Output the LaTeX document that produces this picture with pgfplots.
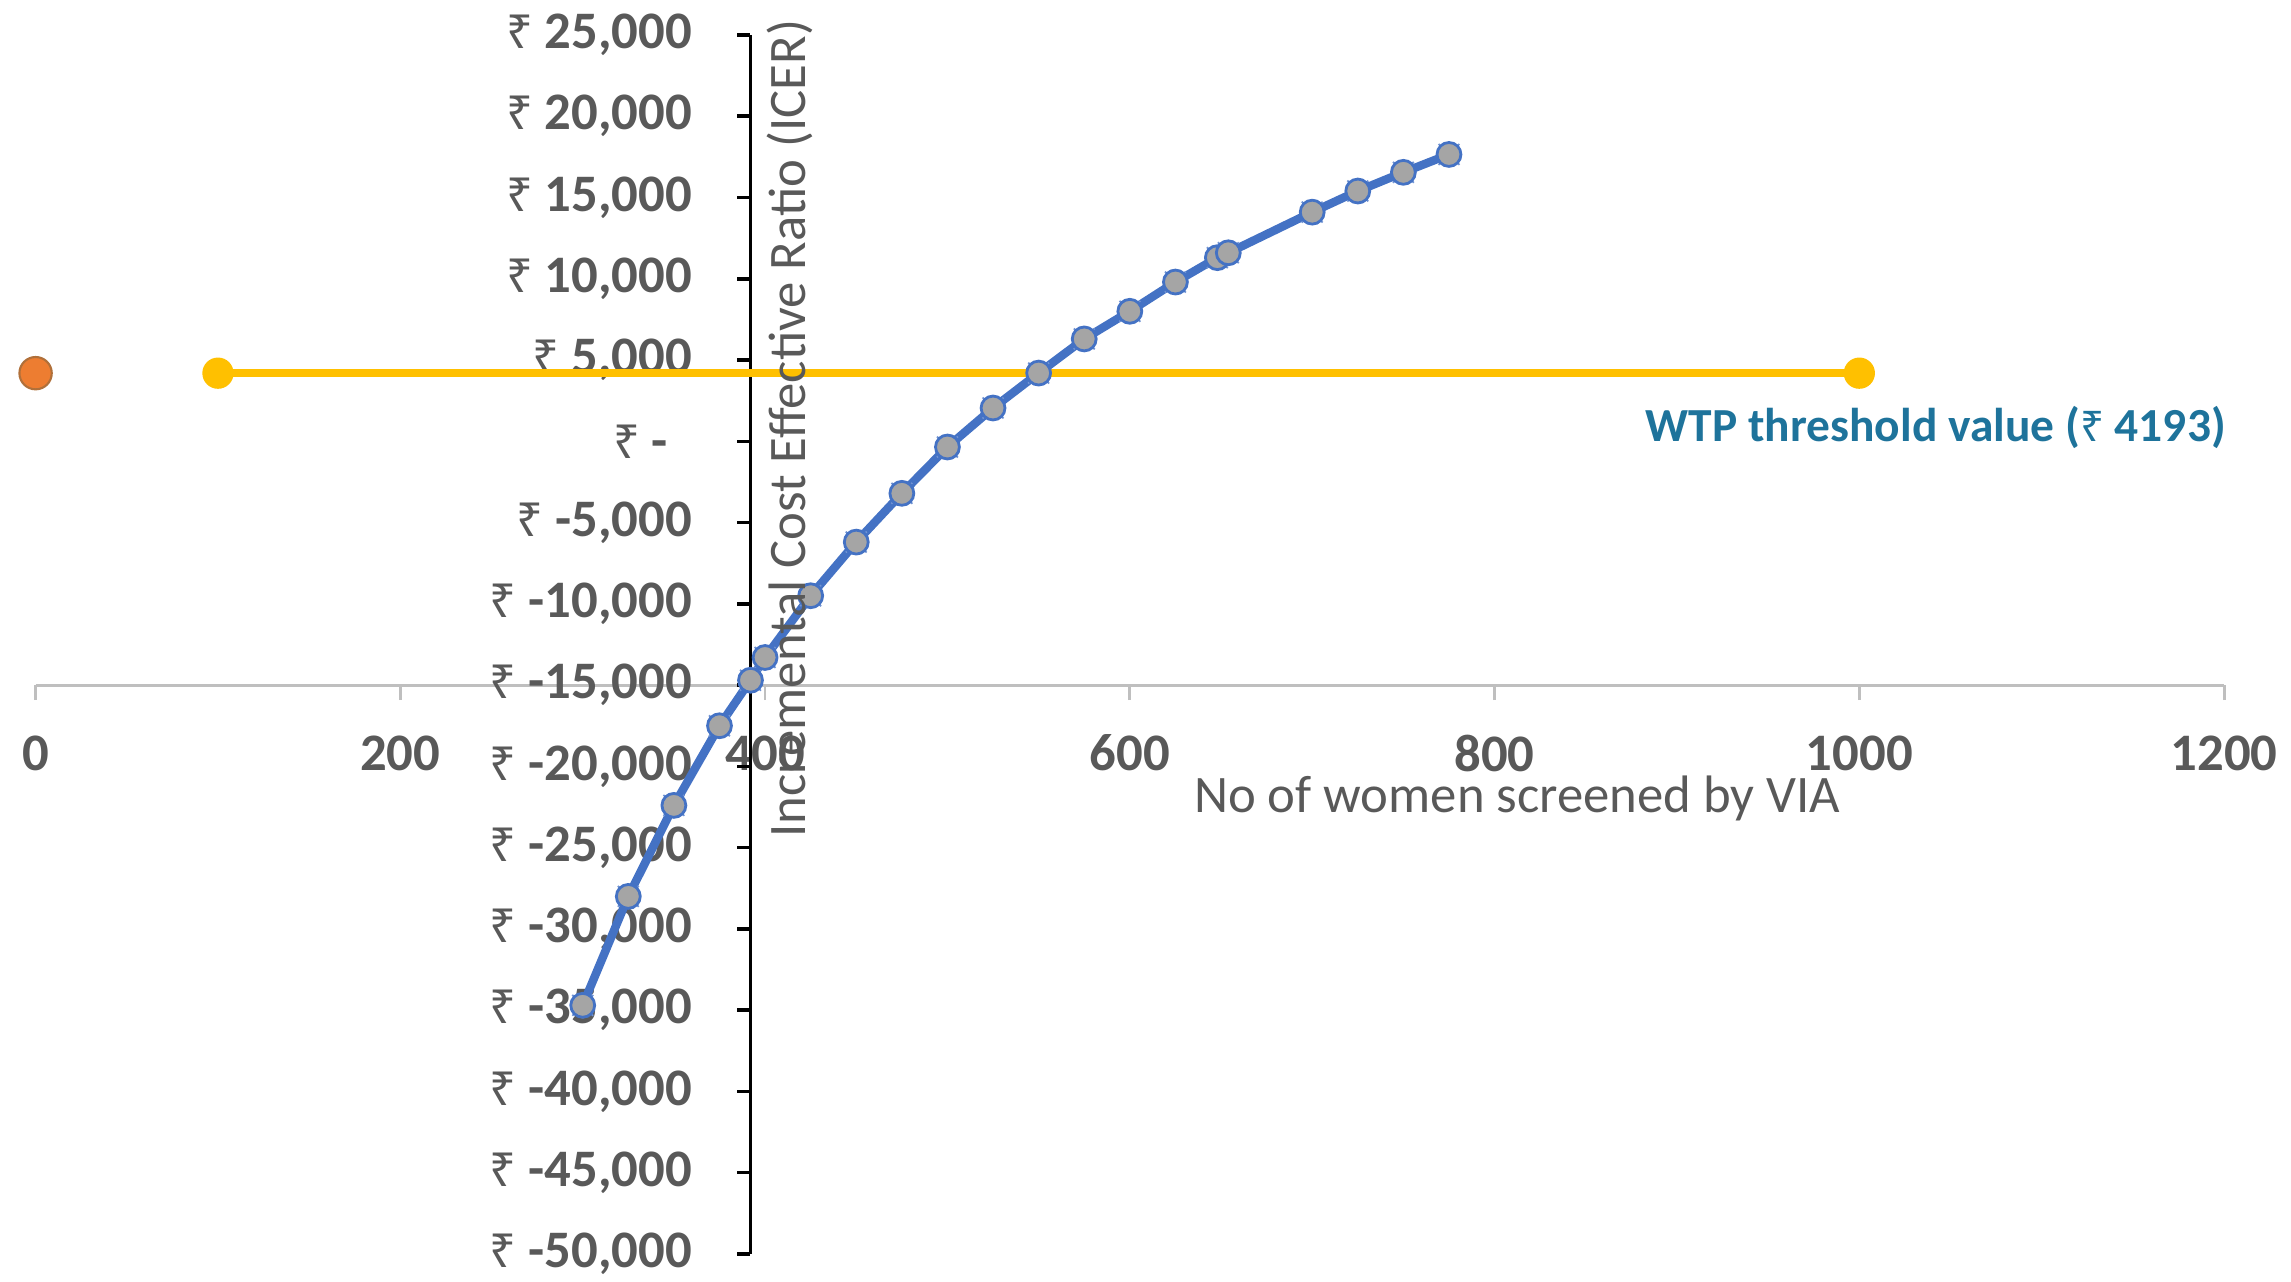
\documentclass[border=0pt]{standalone}
\usepackage{fontspec}
\setmainfont{Carlito}
\newfontfamily\rupeefont[Scale=0.89]{Noto Sans}
\usepackage{pgfplots}
\usepackage{pgfplotstable}
\pgfplotsset{compat=1.18}

\definecolor{icerblue}{HTML}{4472C4}
\definecolor{markgray}{HTML}{A5A5A5}
\definecolor{wtpyellow}{HTML}{FFC000}
\definecolor{dotorange}{HTML}{ED7D31}
\definecolor{dotedge}{HTML}{B0703A}
\definecolor{textgray}{HTML}{595959}
\definecolor{axisgray}{HTML}{BFBFBF}
\definecolor{wtpteal}{RGB}{30,115,155}

\newcommand{\rs}{{\rupeefont ₹}}
\newcommand{\tickfont}{\fontsize{15}{18}\selectfont\bfseries}
\newcommand{\labelfont}{\fontsize{15}{18}\selectfont}
\newcommand{\wtpfont}{\fontsize{13.5}{16}\selectfont\bfseries}

% ICER against number of women screened by VIA
\pgfplotstableread{
n    icer
300  -34700
325  -28000
350  -22400
375  -17500
392  -14700
400  -13300
425  -9500
450  -6200
475  -3200
500  -350
525  2050
550  4200
575  6300
600  8000
625  9800
648  11300
654  11600
700  14100
725  15400
750  16550
775  17650
}\icerdata

% willingness-to-pay threshold line
\pgfplotstableread{
n    wtp
100  4193
1000 4193
}\wtpdata

\begin{document}
\begin{tikzpicture}
% horizontal axis, crossing at -15,000
\begin{axis}[
  at={(-71.491mm,56.887mm)}, anchor=south west,
  scale only axis, width=218.85mm, height=65.013mm,
  xmin=0, xmax=1200, ymin=-15000, ymax=25000,
  axis x line=bottom, axis y line=none,
  axis line style={draw=axisgray, line width=0.8pt, -},
  xtick={0,200,400,600,800,1000,1200},
  xticklabels={0,200,400,600,800,1000,1200},
  ytick=\empty,
  tick align=outside,
  major tick length=1.5mm,
  tick style={draw=axisgray, line width=0.8pt},
  xticklabel style={font=\tickfont, text=textgray, anchor=center, yshift=-5.3mm},
  xlabel={No of women screened by VIA},
  xlabel style={font=\labelfont, text=textgray, inner sep=0pt, at={(axis description cs:0.677,-0.174)}, anchor=center},
]
\end{axis}
% vertical axis, crossing at 392, with the data
\begin{axis}[
  at={(0,0)}, anchor=south west,
  scale only axis, width=147.359mm, height=121.9mm,
  xmin=392, xmax=1200, ymin=-50000, ymax=25000,
  axis y line=left, axis x line=none,
  axis line style={draw=black, line width=1pt, -},
  xtick=\empty,
  ytick={-50000,-45000,-40000,-35000,-30000,-25000,-20000,-15000,-10000,-5000,0,5000,10000,15000,20000,25000},
  yticklabels={{\rs\ -50,000},{\rs\ -45,000},{\rs\ -40,000},{\rs\ -35,000},{\rs\ -30,000},{\rs\ -25,000},{\rs\ -20,000},{\rs\ -15,000},{\rs\ -10,000},{\rs\ -5,000},{\rs\ -\hspace*{2.4mm}},{\rs\ 5,000},{\rs\ 10,000},{\rs\ 15,000},{\rs\ 20,000},{\rs\ 25,000}},
  tick align=outside,
  major tick length=1.3mm,
  tick style={draw=black, line width=1pt},
  yticklabel style={font=\tickfont, text=textgray, anchor=east, xshift=-3.3mm},
  ylabel={Incremental Cost Effective Ratio (ICER)},
  ylabel style={font=\labelfont, text=textgray, inner sep=0pt, at={(axis description cs:0.0267,0.677)}, anchor=center},
  clip=false,
]
\addplot[only marks, mark=x, mark size=4.2pt, mark options={draw=icerblue!75, line width=0.5pt}] table[x=n, y=icer] {\icerdata};
\addplot[icerblue, line width=2.4pt, mark=*, mark size=3.4pt, mark options={fill=markgray, draw=icerblue, line width=0.8pt}] table[x=n, y=icer] {\icerdata};
\addplot[wtpyellow, line width=2.2pt, mark=*, mark size=4.2pt, mark options={fill=wtpyellow, draw=wtpyellow, line width=0.5pt}] table[x=n, y=wtp] {\wtpdata};
\addplot[only marks, mark=*, mark size=4.6pt, mark options={fill=dotorange, draw=dotedge, line width=0.6pt}] coordinates {(0,4193)};
\node[font=\wtpfont, text=wtpteal, anchor=center] at (axis cs:1042,880) {WTP threshold value (\rs\ 4193)};
\end{axis}
\pgfresetboundingbox
\path[use as bounding box] (-75.05mm,-2.8mm) rectangle (154.05mm,125.4mm);
\end{tikzpicture}
\end{document}
